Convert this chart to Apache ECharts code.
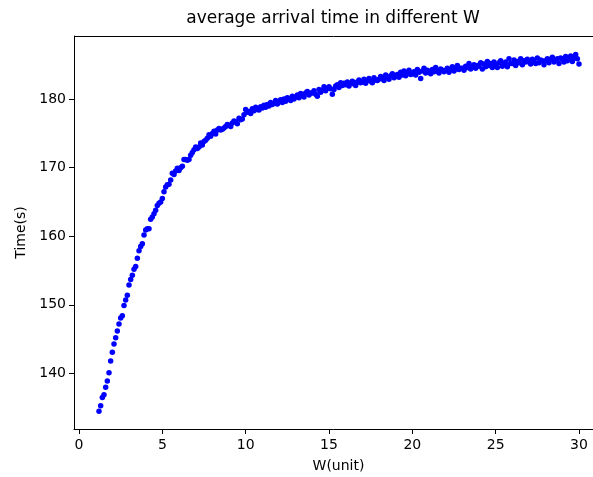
<!DOCTYPE html>
<html>
<head>
<meta charset="utf-8">
<script src="https://cdn.jsdelivr.net/npm/echarts@6/dist/echarts.min.js"></script>
<style>
html,body{margin:0;padding:0;background:#fff;}
#c{width:593px;height:477px;}
</style>
</head>
<body>
<div id="c"></div>
<script>
// W values (unit)
const wValues = [
  1.2,1.3,1.4,1.5,1.6,1.7,1.8,1.9,
  2.0,2.1,2.2,2.3,2.4,2.5,2.6,2.7,2.8,2.9,
  3.0,3.1,3.2,3.3,3.4,3.5,3.6,3.7,3.8,3.9,
  4.0,4.1,4.2,4.3,4.4,4.5,4.6,4.7,4.8,4.9,
  5.0,5.1,5.2,5.3,5.4,5.5,5.6,5.7,5.8,5.9,
  6.0,6.1,6.2,6.3,6.4,6.5,6.6,6.7,6.8,6.9,
  7.0,7.1,7.2,7.3,7.4,7.5,7.6,7.7,7.8,7.9,
  8.0,8.1,8.2,8.3,8.4,8.5,8.6,8.7,8.8,8.9,
  9.0,9.1,9.2,9.3,9.4,9.5,9.6,9.7,9.8,9.9,
  10.0,10.1,10.2,10.3,10.4,10.5,10.6,10.7,10.8,10.9,
  11.0,11.1,11.2,11.3,11.4,11.5,11.6,11.7,11.8,11.9,
  12.0,12.1,12.2,12.3,12.4,12.5,12.6,12.7,12.8,12.9,
  13.0,13.1,13.2,13.3,13.4,13.5,13.6,13.7,13.8,13.9,
  14.0,14.1,14.2,14.3,14.4,14.5,14.6,14.7,14.8,14.9,
  15.0,15.1,15.2,15.3,15.4,15.5,15.6,15.7,15.8,15.9,
  16.0,16.1,16.2,16.3,16.4,16.5,16.6,16.7,16.8,16.9,
  17.0,17.1,17.2,17.3,17.4,17.5,17.6,17.7,17.8,17.9,
  18.0,18.1,18.2,18.3,18.4,18.5,18.6,18.7,18.8,18.9,
  19.0,19.1,19.2,19.3,19.4,19.5,19.6,19.7,19.8,19.9,
  20.0,20.1,20.2,20.3,20.4,20.5,20.6,20.7,20.8,20.9,
  21.0,21.1,21.2,21.3,21.4,21.5,21.6,21.7,21.8,21.9,
  22.0,22.1,22.2,22.3,22.4,22.5,22.6,22.7,22.8,22.9,
  23.0,23.1,23.2,23.3,23.4,23.5,23.6,23.7,23.8,23.9,
  24.0,24.1,24.2,24.3,24.4,24.5,24.6,24.7,24.8,24.9,
  25.0,25.1,25.2,25.3,25.4,25.5,25.6,25.7,25.8,25.9,
  26.0,26.1,26.2,26.3,26.4,26.5,26.6,26.7,26.8,26.9,
  27.0,27.1,27.2,27.3,27.4,27.5,27.6,27.7,27.8,27.9,
  28.0,28.1,28.2,28.3,28.4,28.5,28.6,28.7,28.8,28.9,
  29.0,29.1,29.2,29.3,29.4,29.5,29.6,29.7,29.8,29.9,
  30.0
];
// average arrival time (s)
const timeValues = [
  134.5,135.3,136.5,136.9,138.0,138.9,140.1,141.8,
  143.1,144.3,145.2,146.2,147.2,148.1,148.4,149.9,150.7,151.4,
  152.9,153.7,154.3,155.2,155.6,156.8,157.9,158.5,158.9,160.2,
  160.9,161.1,161.1,162.5,162.8,163.3,163.8,164.5,164.8,165.0,
  165.5,166.5,167.2,167.5,167.6,168.2,169.2,169.0,169.5,169.9,
  169.6,170.0,170.2,171.2,171.2,171.1,171.2,171.8,172.2,172.6,
  173.0,172.8,173.0,173.6,173.3,173.8,174.0,174.3,174.8,174.6,
  175.0,175.3,174.9,175.5,175.7,175.5,175.6,175.8,176.0,176.3,
  176.2,176.0,176.5,176.8,176.7,176.4,177.2,177.0,177.1,177.7,
  178.5,178.1,178.2,177.9,178.6,178.3,178.8,178.5,178.4,178.9,
  178.7,179.1,178.8,179.2,179.0,179.5,179.2,179.4,179.8,179.3,
  179.6,179.9,179.5,180.0,179.7,180.2,180.1,179.8,180.4,180.0,
  180.3,180.6,180.2,180.8,180.5,180.3,180.9,181.1,180.6,180.9,
  180.9,181.2,180.7,180.4,181.4,181.0,181.3,181.8,181.2,181.6,
  181.8,181.5,180.7,181.4,181.9,182.1,181.7,182.4,182.0,182.3,
  182.1,182.5,181.9,182.3,182.6,182.2,182.0,182.5,182.8,182.4,
  182.5,182.9,182.3,182.7,183.0,182.6,182.4,183.1,182.8,182.7,
  182.9,183.3,183.0,182.7,183.5,183.2,182.9,183.4,183.7,183.1,
  183.3,183.6,183.2,183.9,183.5,184.1,183.4,183.8,184.2,183.6,
  183.7,184.0,183.5,184.3,183.9,183.0,184.1,184.5,183.8,184.2,
  184.0,183.7,184.3,184.0,184.6,184.1,183.8,184.4,184.2,184.0,
  184.2,184.5,183.9,184.3,184.7,184.1,184.4,184.9,184.3,184.5,
  184.5,184.2,184.8,184.6,185.2,184.4,184.7,185.0,184.5,184.9,
  184.8,185.3,184.4,185.1,184.7,185.5,184.9,185.2,184.6,185.4,
  185.0,184.6,185.3,185.6,184.8,185.1,185.4,184.7,185.9,185.2,
  185.2,185.7,184.9,185.5,185.3,185.9,185.0,185.6,185.4,185.8,
  185.4,185.1,185.8,185.5,185.2,186.0,185.3,185.7,185.6,185.0,
  185.6,185.9,185.3,185.8,186.1,185.4,185.7,185.9,185.2,186.0,
  185.8,185.4,186.2,185.6,185.9,186.3,185.5,186.0,186.5,185.9,
  185.1
];
const xTicks = [0,5,10,15,20,25,30];
const yTicks = [140,150,160,170,180];

const points = wValues.map((w,i)=>[w,timeValues[i]]);
const font = 'DejaVu Sans';
const chart = echarts.init(document.getElementById('c'), null, {renderer:'canvas'});
chart.setOption({
  animation:false,
  backgroundColor:'#fff',
  grid:{left:74, top:36, width:529, height:393, outerBoundsMode:'none', containLabel:false},
  xAxis:{
    type:'value', min:-0.3, max:31.44,
    name:'W(unit)', nameLocation:'middle', nameGap:30,
    nameTextStyle:{fontFamily:font,fontSize:14,color:'#000'},
    axisLine:{show:true,onZero:false,lineStyle:{color:'#000',width:1}},
    axisTick:{show:true,length:5,customValues:xTicks,lineStyle:{color:'#000'}},
    axisLabel:{customValues:xTicks,fontFamily:font,fontSize:14,color:'#000',margin:9},
    splitLine:{show:false}
  },
  yAxis:{
    type:'value', min:131.9, max:189.2,
    name:'Time(s)', nameLocation:'middle', nameGap:46, nameRotate:90,
    nameTextStyle:{fontFamily:font,fontSize:14,color:'#000'},
    axisLine:{show:true,onZero:false,lineStyle:{color:'#000',width:1}},
    axisTick:{show:true,length:5,customValues:yTicks,lineStyle:{color:'#000'}},
    axisLabel:{customValues:yTicks,fontFamily:font,fontSize:14,color:'#000',margin:8},
    splitLine:{show:false}
  },
  graphic:[{
    type:'line', silent:true,
    shape:{x1:74,y1:36.5,x2:593,y2:36.5},
    style:{stroke:'#000',lineWidth:1}
  },{
    type:'text', silent:true, x:333, y:19,
    style:{text:'average arrival time in different W', fontFamily:font, fontSize:17,
      fill:'#000', textAlign:'center', textVerticalAlign:'middle'}
  }],
  series:[{
    type:'scatter',
    data:points,
    symbol:'circle',
    symbolSize:5.5,
    itemStyle:{color:'#0000ff',opacity:1}
  }]
});
</script>
</body>
</html>
